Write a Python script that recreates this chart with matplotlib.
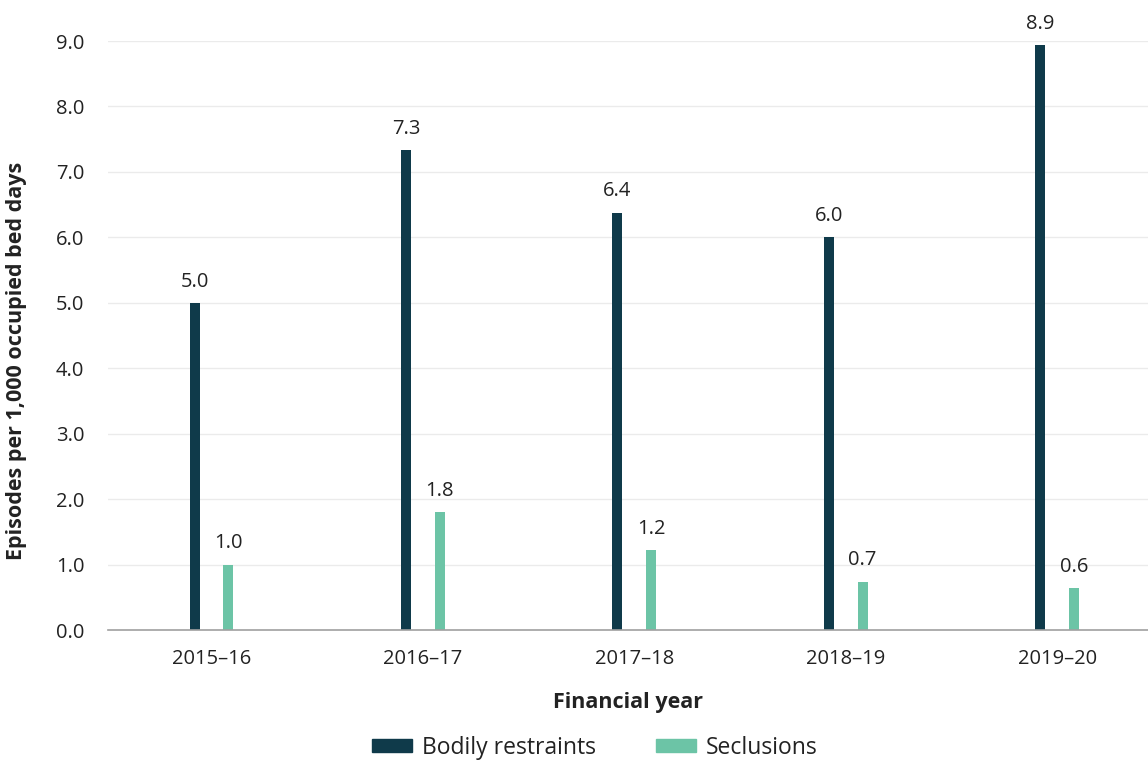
import numpy as np
import matplotlib
matplotlib.use('Agg')
import matplotlib.pyplot as plt
from matplotlib.patches import Patch

plt.rcParams['font.family'] = ['Open Sans', 'DejaVu Sans']

# Rates per 1,000 occupied bed days
years = ['2015–16', '2016–17', '2017–18', '2018–19', '2019–20']
restraints = [5.0, 7.33, 6.38, 6.0, 8.94]
seclusions = [1.0, 1.8, 1.22, 0.74, 0.64]

dark = '#0f3a4a'
green = '#6cc4a6'
text_col = '#222222'

fig = plt.figure(figsize=(11.48, 7.6), dpi=100)
ax = fig.add_axes([0.094, 0.171, 0.906, 0.775])

x = np.arange(len(years))
w = 0.048
off = 0.08
ax.bar(x - off, restraints, w, color=dark, zorder=3)
ax.bar(x + off, seclusions, w, color=green, zorder=3)

for xi, v in zip(x, restraints):
    ax.text(xi - off, v + 0.17, f'{v:.1f}', ha='center', va='bottom',
            fontsize=14.5, color=text_col, clip_on=False)
for xi, v in zip(x, seclusions):
    ax.text(xi + off, v + 0.17, f'{v:.1f}', ha='center', va='bottom',
            fontsize=14.5, color=text_col, clip_on=False)

ax.set_xlim(-0.49, 4.43)
ax.set_ylim(0, 9.0)
ax.set_yticks(np.arange(0, 9.5, 1.0))
ax.set_yticklabels([f'{t:.1f}' for t in np.arange(0, 9.5, 1.0)])
ax.set_xticks(x)
ax.set_xticklabels(years)
ax.tick_params(axis='both', length=0, labelsize=14.5, labelcolor=text_col)
ax.tick_params(axis='y', pad=17)
ax.tick_params(axis='x', pad=14)

ax.grid(axis='y', color='#ebebeb', linewidth=1, zorder=0)
for s in ['top', 'right', 'left']:
    ax.spines[s].set_visible(False)
ax.spines['bottom'].set_color('#a0a0a0')
ax.spines['bottom'].set_linewidth(1.2)
ax.spines['bottom'].set_zorder(4)

ax.set_xlabel('Financial year', fontsize=15.5, fontweight='bold',
              color=text_col, labelpad=16)
ax.set_ylabel('Episodes per 1,000 occupied bed days', fontsize=15.5,
              fontweight='bold', color=text_col)
ax.yaxis.set_label_coords(-0.078, 0.457)

handles = [Patch(color=dark, label='Bodily restraints'),
           Patch(color=green, label='Seclusions')]
fig.legend(handles=handles, loc='center', bbox_to_anchor=(0.518, 0.016),
           ncol=2, frameon=False, fontsize=16.5, handlelength=1.75,
           handleheight=0.5, handletextpad=0.45, columnspacing=2.6,
           labelcolor=text_col)

fig.savefig('out.png', dpi=100)
